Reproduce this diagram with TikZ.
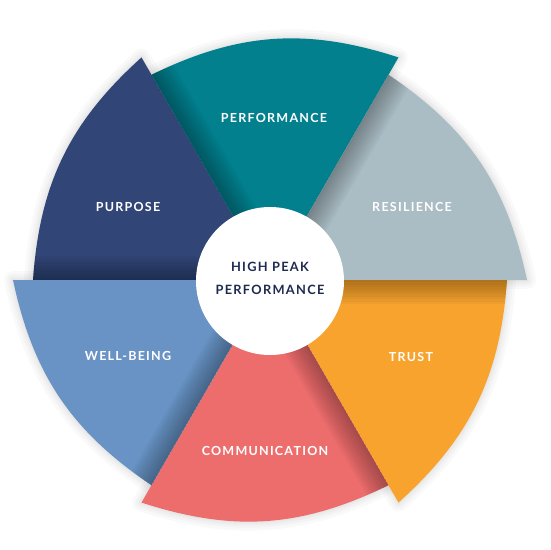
\documentclass[tikz,border=0pt]{standalone}
\usepackage{fontspec}
\setmainfont{Lato}[LetterSpace=10]
\definecolor{cpurp}{HTML}{314676}
\definecolor{cperf}{HTML}{02808E}
\definecolor{cres}{HTML}{AABCC4}
\definecolor{ctrust}{HTML}{F7A32E}
\definecolor{ccomm}{HTML}{ED6D6D}
\definecolor{cwell}{HTML}{6893C4}
\definecolor{ctext}{HTML}{1E2B4F}
\newcommand{\wdg}[1]{(0,0) -- (#1:237) to[bend left=22] ({#1-60}:257) -- cycle}
\begin{document}
\begin{tikzpicture}[x=1pt,y=1pt,
  lbl/.style={text=white,font=\bfseries\fontsize{12.5}{15}\selectfont,inner sep=0pt},
  hubtext/.style={text=ctext,align=center,font=\bfseries\fontsize{12.8}{23}\selectfont,inner sep=0pt},
  inshadow/.style={fill=black,opacity=0.032}]
\useasboundingbox (-270,-270) rectangle (280,280);
% soft halo
\foreach \w in {18,12,7,3}{
  \foreach \a in {180,120,60,0,-60,-120}{
    \draw[black,opacity=0.025,line width=\w pt,line join=round] \wdg{\a};
  }
}
% wedges with inner shadow along their counter-clockwise edge
\foreach \a/\c in {180/cpurp,120/cperf,60/cres,0/ctrust,-60/ccomm,-120/cwell}{
  \fill[\c] \wdg{\a};
  \begin{scope}
    \clip \wdg{\a};
    \begin{scope}[rotate=\a]
      \foreach \k in {1,...,10}{
        \fill[inshadow] (0,-2.4*\k) rectangle (270,0);
      }
    \end{scope}
  \end{scope}
}
% hub
\node[circle,fill=white,minimum size=148pt,inner sep=0pt] (hub) at (0,-1) {};
\node[hubtext] (hublabel) at (0,2) {HIGH PEAK\\PERFORMANCE};
% labels
\node[lbl] (perf) at (4,162) {PERFORMANCE};
\node[lbl] (purp) at (-142,73) {PURPOSE};
\node[lbl] (res) at (142,73) {RESILIENCE};
\node[lbl] (well) at (-142,-76) {WELL-BEING};
\node[lbl] (trust) at (141,-77) {TRUST};
\node[lbl] (comm) at (-5,-171) {COMMUNICATION};
\end{tikzpicture}
\end{document}
